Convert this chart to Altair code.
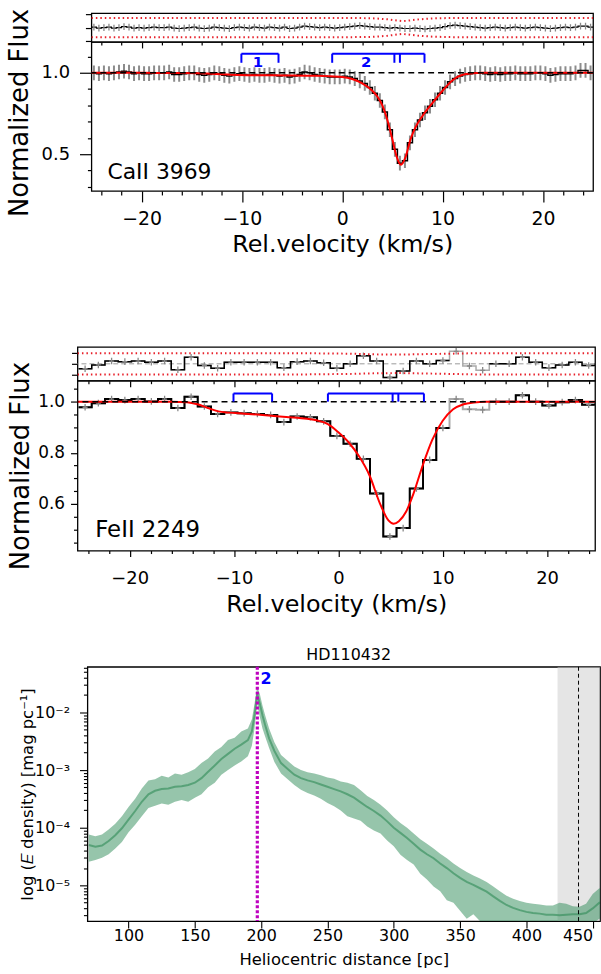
import altair as alt
import pandas as pd

FONT = "DejaVu Sans"

# ====================== CaII 3969 ======================
ca_vel = [-24.75, -24.25, -23.75, -23.25, -22.75, -22.25, -21.75, -21.25, -20.75, -20.25,
          -19.75, -19.25, -18.75, -18.25, -17.75, -17.25, -16.75, -16.25, -15.75, -15.25,
          -14.75, -14.25, -13.75, -13.25, -12.75, -12.25, -11.75, -11.25, -10.75, -10.25,
          -9.75, -9.25, -8.75, -8.25, -7.75, -7.25, -6.75, -6.25, -5.75, -5.25,
          -4.75, -4.25, -3.75, -3.25, -2.75, -2.25, -1.75, -1.25, -0.75, -0.25,
          0.25, 0.75, 1.25, 1.75, 2.25, 2.75, 3.25, 3.75, 4.25, 4.75,
          5.25, 5.75, 6.25, 6.75, 7.25, 7.75, 8.25, 8.75, 9.25, 9.75,
          10.25, 10.75, 11.25, 11.75, 12.25, 12.75, 13.25, 13.75, 14.25, 14.75,
          15.25, 15.75, 16.25, 16.75, 17.25, 17.75, 18.25, 18.75, 19.25, 19.75,
          20.25, 20.75, 21.25, 21.75, 22.25, 22.75, 23.25, 23.75, 24.25, 24.75]
ca_flux = [1.000, 0.995, 1.000, 0.995, 1.000, 1.005, 1.010, 1.005, 0.995, 1.000,
           0.995, 0.995, 1.000, 1.000, 1.000, 1.005, 0.990, 0.990, 0.995, 1.000,
           1.000, 0.990, 0.985, 0.990, 1.000, 0.995, 0.985, 0.980, 0.990, 0.995,
           0.990, 0.985, 0.990, 0.985, 0.985, 0.990, 0.985, 0.980, 0.985, 0.975,
           0.980, 0.990, 1.005, 1.000, 0.990, 0.985, 0.980, 0.975, 0.975, 0.975,
           0.980, 0.975, 0.965, 0.950, 0.935, 0.910, 0.875, 0.830, 0.760, 0.650,
           0.530, 0.445, 0.460, 0.570, 0.650, 0.710, 0.755, 0.795, 0.835, 0.875,
           0.910, 0.945, 0.965, 0.980, 0.990, 0.995, 1.000, 1.000, 0.995, 0.990,
           0.995, 0.990, 0.995, 0.995, 1.000, 0.995, 0.995, 0.995, 1.000, 1.000,
           0.995, 0.985, 0.990, 0.995, 0.995, 0.995, 1.000, 1.015, 1.015, 1.000]
ca_flux_err = 0.045
ca_resid = [0.05, -0.05, 0.0, 0.05, -0.05, 0.0, 0.1, 0.05, -0.05, 0.0,
            -0.05, 0.0, 0.05, 0.0, 0.0, 0.05, -0.05, -0.1, -0.05, 0.0,
            0.05, -0.05, -0.1, -0.05, 0.05, 0.0, -0.05, -0.1, 0.0, 0.05,
            0.0, -0.05, 0.05, 0.0, -0.05, 0.05, 0.0, -0.05, 0.05, -0.1,
            -0.05, 0.05, 0.15, 0.1, 0.05, 0.0, 0.05, 0.0, -0.05, 0.0,
            0.05, 0.1, 0.15, 0.2, 0.15, 0.1, 0.05, 0.05, 0.0, -0.05,
            0.0, -0.05, -0.1, -0.1, -0.05, -0.1, -0.15, -0.1, -0.05, 0.0,
            0.1, 0.2, 0.25, 0.2, 0.15, 0.1, 0.05, 0.0, -0.05, 0.0,
            0.05, 0.0, -0.05, 0.0, 0.05, 0.0, -0.05, 0.0, 0.05, 0.0,
            -0.05, -0.1, -0.05, 0.0, 0.05, 0.0, 0.05, 0.15, 0.15, 0.05]
ca_resid_err = 0.35
ca_bin_half = 0.25
ca_model_vel = [-25, -20, -16, -13, -11, -9, -7, -5, -3, -1.5,
                0, 1, 2, 3, 3.5, 4, 4.5, 5, 5.4, 5.85,
                6.3, 6.8, 7.3, 8, 9, 10, 11, 12, 13, 14, 25]
ca_model = [1.0, 1.0, 0.999, 0.995, 0.988, 0.985, 0.985, 0.984, 0.982, 0.98,
            0.975, 0.962, 0.935, 0.89, 0.855, 0.8, 0.71, 0.59, 0.49, 0.435,
            0.48, 0.59, 0.665, 0.735, 0.815, 0.89, 0.955, 0.988, 0.997, 1.0, 1.0]
ca_lim_vel = [-25, 1, 3, 4.5, 5.5, 6, 6.5, 7.5, 9, 11, 25]
ca_lim_hi = [1.0, 1.0, 0.97, 0.86, 0.72, 0.67, 0.71, 0.84, 0.95, 1.0, 1.0]
ca_lim_lo = [-1.0, -1.0, -0.97, -0.86, -0.72, -0.67, -0.71, -0.84, -0.95, -1.0, -1.0]

# ====================== FeII 2249 ======================
fe_vel = [-24.27, -23.00, -21.73, -20.46, -19.19, -17.92, -16.65, -15.38, -14.11, -12.84,
          -11.57, -10.30, -9.03, -7.76, -6.49, -5.22, -3.95, -2.68, -1.41, -0.14,
          1.13, 2.40, 3.67, 4.94, 6.21, 7.48, 8.75, 10.02, 11.29, 12.56,
          13.83, 15.10, 16.37, 17.64, 18.91, 20.18, 21.45, 22.72, 23.99, 25.26]
fe_flux = [0.978, 0.994, 1.010, 1.006, 1.010, 1.001, 1.010, 0.975, 1.019, 0.981,
           0.952, 0.958, 0.955, 0.952, 0.948, 0.920, 0.942, 0.939, 0.923, 0.866,
           0.835, 0.776, 0.640, 0.472, 0.505, 0.660, 0.772, 0.897, 1.010, 0.970,
           0.968, 1.000, 1.000, 1.025, 1.000, 0.985, 0.998, 1.006, 0.988, 0.990]
fe_resid = [-0.45, -0.1, 0.25, 0.2, 0.25, 0.15, 0.25, -0.55, 0.6, -0.15,
            -0.4, 0.15, 0.15, 0.15, 0.15, -0.35, 0.2, 0.25, 0.1, -0.4,
            0.0, 0.75, 0.25, -1.25, -0.65, 0.25, 0.0, 0.3, 1.15, -0.2,
            -0.6, 0.0, 0.0, 0.6, 0.15, -0.35, -0.1, 0.15, -0.15, 0.0]
fe_masked_vel = [11.29, 12.56, 13.83]
fe_bin_half = 0.635
fe_flux_err = 0.013
fe_resid_err = 0.3
fe_model_vel = [-25, -16, -14.5, -13.5, -12.5, -11.5, -10.5, -9, -7, -5,
                -3, -2, -1, 0, 1, 2, 3, 4, 4.8, 5.3,
                5.8, 6.5, 7.2, 8, 9, 10, 11, 12, 13, 14, 15, 25]
fe_model = [1.0, 1.0, 0.998, 0.99, 0.975, 0.962, 0.957, 0.953, 0.947, 0.94,
            0.933, 0.926, 0.912, 0.88, 0.84, 0.785, 0.71, 0.6, 0.535, 0.522,
            0.532, 0.57, 0.64, 0.74, 0.85, 0.925, 0.97, 0.99, 0.997, 1.0, 1.0, 1.0]
fe_lim_vel = [-25, -3, 1, 4, 6, 9, 13, 25]
fe_lim_hi = [0.97, 0.97, 0.93, 0.86, 0.85, 0.9, 0.97, 0.97]
fe_lim_lo = [-0.97, -0.97, -0.93, -0.86, -0.85, -0.9, -0.97, -0.97]

# component markers (shared by both line panels)
comp_bars = [[-10.05, -6.35], [-1.0, 8.2]]
comp_ticks = [-10.05, -6.35, -1.0, 5.2, 5.75, 8.2]
comp_names = ["1", "2"]
comp_name_vel = [-8.4, 2.4]
continuum = 1.0

# ====================== extinction density ======================
dist = [70, 75, 80, 85, 90, 95, 100, 105, 110, 115, 120, 125, 130, 135, 140, 145, 150, 155,
        160, 165, 170, 175, 180, 185, 190, 193, 195, 197, 199, 201, 203, 206, 210, 215, 220,
        225, 230, 235, 240, 245, 250, 255, 260, 265, 270, 275, 280, 285, 290, 295, 300, 305,
        310, 315, 320, 325, 330, 335, 340, 345, 350, 355, 360, 365, 370, 375, 380, 385, 390,
        395, 400, 405, 410, 415, 420, 425, 430, 435, 440, 445, 450, 455, 460]
log_med = [-4.30, -4.33, -4.31, -4.23, -4.13, -4.01, -3.86, -3.71, -3.55, -3.42, -3.36, -3.33,
           -3.32, -3.29, -3.28, -3.26, -3.22, -3.14, -3.03, -2.92, -2.81, -2.72, -2.63, -2.56,
           -2.48, -2.33, -2.05, -1.68, -1.85, -2.05, -2.22, -2.45, -2.67, -2.88, -2.98, -3.08,
           -3.14, -3.18, -3.21, -3.25, -3.29, -3.33, -3.37, -3.42, -3.48, -3.56, -3.64, -3.71,
           -3.79, -3.89, -4.00, -4.09, -4.18, -4.28, -4.38, -4.46, -4.53, -4.62, -4.70, -4.79,
           -4.87, -4.94, -4.99, -5.05, -5.11, -5.19, -5.27, -5.34, -5.39, -5.43, -5.46, -5.48,
           -5.49, -5.51, -5.51, -5.52, -5.51, -5.50, -5.50, -5.48, -5.40, -5.30, -5.35]
log_hi = [-4.12, -4.15, -4.12, -4.03, -3.93, -3.80, -3.64, -3.50, -3.32, -3.18, -3.16, -3.10,
          -3.13, -3.06, -3.08, -3.04, -2.98, -2.88, -2.80, -2.68, -2.60, -2.48, -2.44, -2.33,
          -2.28, -2.12, -1.85, -1.55, -1.68, -1.88, -2.05, -2.28, -2.52, -2.74, -2.84, -2.94,
          -3.00, -3.04, -3.06, -3.09, -3.13, -3.15, -3.20, -3.22, -3.26, -3.35, -3.45, -3.52,
          -3.60, -3.70, -3.82, -3.92, -4.00, -4.10, -4.20, -4.28, -4.36, -4.45, -4.53, -4.62,
          -4.70, -4.77, -4.83, -4.88, -4.94, -5.02, -5.10, -5.18, -5.23, -5.27, -5.30, -5.32,
          -5.33, -5.35, -5.35, -5.30, -5.32, -5.36, -5.37, -5.32, -5.15, -5.05, -5.10]
log_lo = [-4.59, -4.56, -4.52, -4.46, -4.36, -4.25, -4.08, -3.95, -3.80, -3.66, -3.62, -3.58,
          -3.60, -3.55, -3.52, -3.55, -3.48, -3.42, -3.30, -3.22, -3.08, -3.00, -2.92, -2.85,
          -2.76, -2.58, -2.28, -1.85, -2.08, -2.28, -2.42, -2.62, -2.86, -3.06, -3.16, -3.26,
          -3.34, -3.40, -3.44, -3.50, -3.57, -3.63, -3.70, -3.80, -3.84, -3.88, -3.98, -4.05,
          -4.10, -4.22, -4.32, -4.47, -4.56, -4.64, -4.80, -4.90, -5.02, -5.10, -5.26, -5.30,
          -5.44, -5.58, -5.50, -5.62, -5.70, -5.75, -5.80, -5.85, -5.90, -5.90, -5.90, -5.90,
          -5.90, -5.85, -5.82, -5.80, -5.80, -5.75, -5.72, -5.70, -5.66, -5.58, -5.60]
cloud_dist = [197.1]
cloud_name = ["2"]
cloud_label_dist = [199.5]
cloud_label_log = [-1.43]
star_dist = [439.3]
star_band = [423.5, 470.0]

# ---------------------------------------------------------------
VEL_TICKS = [-24, -22, -20, -18, -16, -14, -12, -10, -8, -6, -4, -2, 0,
             2, 4, 6, 8, 10, 12, 14, 16, 18, 20, 22, 24]
TOP_Y_TICKS = [0.3, 0.4, 0.5, 0.6, 0.7, 0.8, 0.9, 1.0, 1.1]
MID_Y_TICKS = [0.45, 0.5, 0.55, 0.6, 0.65, 0.7, 0.75, 0.8, 0.85, 0.9, 0.95, 1.0, 1.05]
DIST_TICKS = [100, 150, 200, 250, 300, 350, 400, 450]
LOG_DECADES = [float(f"1e{e}") for e in (-2, -3, -4, -5)]
LOG_TICKS = [float(f"{m}e{e}") for e in (-6, -5, -4, -3, -2) for m in range(1, 10)]
LOG_TICKS = [v for v in LOG_TICKS if 2.4e-6 <= v <= 0.0617]


def cond_size(test, big, small):
    return {"condition": {"test": test, "value": big}, "value": small}


def steps(centers, values, half, keep=None):
    rows, seg, prev = [], 0, True
    for i, (c, v) in enumerate(zip(centers, values)):
        k = True if keep is None else keep[i]
        if not k:
            if prev:
                seg += 1
            prev = False
            continue
        prev = True
        rows.append(dict(x=c - half, y=v, o=2 * i, seg=seg))
        rows.append(dict(x=c + half, y=v, o=2 * i + 1, seg=seg))
    return pd.DataFrame(rows)


def spacer(w, h):
    return alt.Chart(pd.DataFrame({"s": [0]})).mark_point(opacity=0).properties(
        width=w, height=h, view=alt.ViewBackground(stroke="transparent"))


def line_panels(vel, flux, ferr, resid, rerr, half, model_vel, model, lim_vel, lim_hi, lim_lo,
                xdom, width, res_h, main_h, ydom, res_dom, yticks, ymajor_test, res_ticks,
                name, name_pos, keep, res_center, main_fs, style):
    XS = alt.Scale(domain=xdom, nice=False, zero=False)
    YS = alt.Scale(domain=ydom, nice=False, zero=False)
    RS = alt.Scale(domain=res_dom, nice=False, zero=False)

    xax = alt.Axis(values=VEL_TICKS, labelExpr="datum.value % 10 === 0 ? datum.label : ''",
                   tickSize=cond_size("datum.value % 10 === 0", style["xmaj"], style["xmin"]),
                   labelPadding=style["xlp"], labelFontSize=style["xlfs"],
                   title="Rel.velocity (km/s)", titleFontSize=24, titleFontWeight="normal",
                   titlePadding=style["xtp"], domain=False, grid=False, tickWidth=1.2)
    yax = alt.Axis(values=yticks, format=".1f",
                   labelExpr="(" + ymajor_test + ") ? datum.label : ''",
                   tickSize=cond_size(ymajor_test, style["ymaj"], 4),
                   labelPadding=style["ylp"], labelFontSize=style["ylfs"],
                   title="Normalized Flux", titleFontSize=26, titleFontWeight="normal",
                   titleX=style["tx"], titleBaseline="middle", domain=False, grid=False,
                   tickWidth=1.2, **({"titleY": style["ty"]} if style.get("ty") is not None else {}))
    rxax = alt.Axis(values=VEL_TICKS, labels=False, title=None, domain=False, grid=False,
                    tickSize=cond_size("datum.value % 10 === 0", 6, 3), tickWidth=1.2)
    ryax = alt.Axis(values=res_ticks, labels=False, title=None, domain=False, grid=False,
                    tickSize=6, tickWidth=1.2)

    err_df = pd.DataFrame({"x": vel, "y": [f - ferr for f in flux], "y2": [f + ferr for f in flux]})
    harm_df = pd.DataFrame({"x": [v - 0.24 for v in vel], "x2": [v + 0.24 for v in vel], "y": flux})
    rerr_df = pd.DataFrame({"x": vel, "y": [r - rerr for r in resid], "y2": [r + rerr for r in resid]})
    rharm_df = pd.DataFrame({"x": [v - 0.24 for v in vel], "x2": [v + 0.24 for v in vel], "y": resid})
    model_df = pd.DataFrame({"x": model_vel, "y": model})
    lim_df = pd.concat([pd.DataFrame({"x": lim_vel, "y": lim_hi, "k": "hi"}),
                        pd.DataFrame({"x": lim_vel, "y": lim_lo, "k": "lo"})])
    cont_df = pd.DataFrame({"y": [continuum]})

    def X(f="x"):
        return alt.X(f + ":Q", scale=XS, axis=xax)

    def Y(f="y"):
        return alt.Y(f + ":Q", scale=YS, axis=yax)

    def RX(f="x"):
        return alt.X(f + ":Q", scale=XS, axis=rxax)

    def RY(f="y"):
        return alt.Y(f + ":Q", scale=RS, axis=ryax)

    # ---------- residual panel ----------
    rlayers = []
    if keep is not None:
        rlayers.append(alt.Chart(steps(vel, resid, half)).mark_line(
            color="#aaaaaa", strokeWidth=1.5, clip=True).encode(
            x=RX(), y=RY(), order=alt.Order("o:Q")))
    if res_center:
        rlayers.append(alt.Chart(pd.DataFrame({"y": [0.0]})).mark_rule(
            color="#999999", strokeDash=[5, 3], strokeWidth=1).encode(y=RY()))
    rlayers.append(alt.Chart(steps(vel, resid, half, keep)).mark_line(
        color="black", strokeWidth=1.5 if keep is not None else 1.2, clip=True).encode(
        x=RX(), y=RY(), detail="seg:N", order=alt.Order("o:Q")))
    rlayers.append(alt.Chart(rerr_df).mark_rule(color="#888888", strokeWidth=1.3, clip=True).encode(
        x=RX(), y=RY(), y2="y2:Q"))
    if keep is not None:
        rlayers.append(alt.Chart(rharm_df).mark_rule(color="#888888", strokeWidth=1.3, clip=True).encode(
            x=RX(), x2="x2:Q", y=RY()))
    rlayers.append(alt.Chart(lim_df).mark_line(color="#e8202a", strokeWidth=2, strokeDash=[1.5, 3],
                                               clip=True).encode(x=RX(), y=RY(), detail="k:N"))
    res = alt.layer(*rlayers).properties(width=width, height=res_h)

    # ---------- main panel ----------
    layers = []
    if keep is not None:
        layers.append(alt.Chart(steps(vel, flux, half)).mark_line(
            color="#aaaaaa", strokeWidth=2, clip=True).encode(x=X(), y=Y(), order=alt.Order("o:Q")))
        layers.append(alt.Chart(steps(vel, flux, half, keep)).mark_line(
            color="black", strokeWidth=2, clip=True).encode(
            x=X(), y=Y(), detail="seg:N", order=alt.Order("o:Q")))
        layers.append(alt.Chart(err_df).mark_rule(color="#888888", strokeWidth=1.3, clip=True).encode(
            x=X(), y=Y(), y2="y2:Q"))
        layers.append(alt.Chart(harm_df).mark_rule(color="#888888", strokeWidth=1.3, clip=True).encode(
            x=X(), x2="x2:Q", y=Y()))
    else:
        layers.append(alt.Chart(err_df).mark_rule(color="#8c8c8c", strokeWidth=2, clip=True).encode(
            x=X(), y=Y(), y2="y2:Q"))
        layers.append(alt.Chart(steps(vel, flux, half)).mark_line(
            color="black", strokeWidth=1.5, clip=True).encode(x=X(), y=Y(), order=alt.Order("o:Q")))
    layers.append(alt.Chart(model_df).mark_line(color="#ff0000", strokeWidth=2, interpolate="monotone",
                                                clip=True).encode(x=X(), y=Y()))
    layers.append(alt.Chart(cont_df).mark_rule(color="black", strokeWidth=1.5, strokeDash=[6, 4]).encode(
        y=Y()))
    top_y, bot_y = style["bar_y"]
    bars_df = pd.DataFrame({"x": [b[0] for b in comp_bars], "x2": [b[1] for b in comp_bars],
                            "y": [top_y] * len(comp_bars)})
    ticks_df = pd.DataFrame({"x": comp_ticks, "y": [bot_y] * len(comp_ticks),
                             "y2": [top_y] * len(comp_ticks)})
    layers.append(alt.Chart(bars_df).mark_rule(color="#0000ff", strokeWidth=2).encode(
        x=X(), x2="x2:Q", y=Y()))
    layers.append(alt.Chart(ticks_df).mark_rule(color="#0000ff", strokeWidth=2).encode(
        x=X(), y=Y(), y2="y2:Q"))
    if style.get("comp_label_y") is not None:
        cl_df = pd.DataFrame({"x": comp_name_vel, "y": [style["comp_label_y"]] * 2, "t": comp_names})
        layers.append(alt.Chart(cl_df).mark_text(color="#0000ff", fontSize=15, fontWeight="bold",
                                                 font=FONT, baseline="alphabetic").encode(
            x=X(), y=Y(), text="t:N"))
    nm_df = pd.DataFrame({"x": [name_pos[0]], "y": [name_pos[1]], "t": [name]})
    layers.append(alt.Chart(nm_df).mark_text(align="left", baseline="alphabetic", fontSize=main_fs,
                                             font=FONT, color="black").encode(
        x=X(), y=Y(), text="t:N"))
    main = alt.layer(*layers).properties(width=width, height=main_h)
    return alt.vconcat(res, main, spacing=0, bounds="flush")


top_block = line_panels(
    ca_vel, ca_flux, ca_flux_err, ca_resid, ca_resid_err, ca_bin_half,
    ca_model_vel, ca_model, ca_lim_vel, ca_lim_hi, ca_lim_lo,
    xdom=[-25, 25], width=505, res_h=29, main_h=150, ydom=[0.274, 1.19], res_dom=[-1.5, 1.5],
    yticks=TOP_Y_TICKS, ymajor_test="datum.value === 0.5 || datum.value === 1",
    res_ticks=[-1.4, 0, 1.4], name="CaII 3969", name_pos=(-23.4, 0.348), keep=None,
    res_center=False, main_fs=22,
    style=dict(xmaj=11, xmin=4, xlp=8, xlfs=19, xtp=4, ymaj=12, ylp=10, ylfs=18, tx=-72, ty=71,
               bar_y=(1.118, 1.062), comp_label_y=1.037))

fe_keep = [v not in fe_masked_vel for v in fe_vel]
mid_block = line_panels(
    fe_vel, fe_flux, fe_flux_err, fe_resid, fe_resid_err, fe_bin_half,
    fe_model_vel, fe_model, fe_lim_vel, fe_lim_hi, fe_lim_lo,
    xdom=[-25, 24.6], width=521, res_h=34, main_h=171, ydom=[0.417, 1.082], res_dom=[-1.55, 1.55],
    yticks=MID_Y_TICKS, ymajor_test="datum.value === 0.6 || datum.value === 0.8 || datum.value === 1",
    res_ticks=[-1, 0, 1], name="FeII 2249", name_pos=(-23.3, 0.471), keep=fe_keep,
    res_center=True, main_fs=23,
    style=dict(xmaj=6, xmin=3, xlp=13, xlfs=18, xtp=5, ymaj=7, ylp=6, ylfs=17, tx=-57.5, ty=None,
               bar_y=(1.032, 1.0), comp_label_y=None))

# ---------------- bottom panel ----------------
XB = alt.Scale(domain=[69, 455.5], nice=False, zero=False)
YB = alt.Scale(type="log", domain=[2.4e-6, 0.0617], nice=False)
bxax = alt.Axis(values=DIST_TICKS, tickSize=7, labelPadding=0, labelFontSize=16, labelFlush=10,
                title="Heliocentric distance [pc]", titleFontSize=16.5, titleFontWeight="normal",
                titlePadding=8, domain=False, grid=False, tickWidth=1.1)
dec_test = " || ".join(f"datum.value === {d!r}" for d in LOG_DECADES)
byax = alt.Axis(values=LOG_TICKS, tickSize=cond_size(dec_test, 8, 4), labelPadding=10,
                labelFontSize=16,
                labelExpr=("datum.value === 0.01 ? '10⁻²' : datum.value === 0.001 ? '10⁻³' : "
                           "datum.value === 0.0001 ? '10⁻⁴' : datum.value === 0.00001 ? '10⁻⁵' : ''"),
                title="log (𝐸 density) [mag pc⁻¹]", titleFontSize=16.5, titleFontWeight="normal",
                titleX=-60, titleBaseline="middle", domain=False, grid=False, tickWidth=1.1)

ext_df = pd.DataFrame({"d": dist, "m": [10 ** v for v in log_med], "h": [10 ** v for v in log_hi],
                       "l": [10 ** v for v in log_lo]})
BX = lambda f: alt.X(f + ":Q", scale=XB, axis=bxax)
BY = lambda f: alt.Y(f + ":Q", scale=YB, axis=byax)

b_layers = [
    alt.Chart(pd.DataFrame({"x": [star_band[0]], "x2": [star_band[1]]})).mark_rect(
        color="#cccccc", opacity=0.5, clip=True).encode(x=BX("x"), x2="x2:Q"),
    alt.Chart(ext_df).mark_area(color="#2e8b57", opacity=0.5, clip=True).encode(
        x=BX("d"), y=BY("h"), y2="l:Q"),
    alt.Chart(ext_df).mark_line(color="#2e8b57", opacity=0.6, strokeWidth=2, clip=True).encode(
        x=BX("d"), y=BY("m")),
    alt.Chart(pd.DataFrame({"x": star_dist})).mark_rule(color="black", strokeWidth=1,
                                                       strokeDash=[4, 3]).encode(x=BX("x")),
    alt.Chart(pd.DataFrame({"x": cloud_dist})).mark_rule(color="#bf00bf", strokeWidth=3.2,
                                                        strokeDash=[3, 2]).encode(x=BX("x")),
    alt.Chart(pd.DataFrame({"x": cloud_label_dist, "y": [10 ** v for v in cloud_label_log],
                            "t": cloud_name})).mark_text(
        color="#0000ff", fontSize=16, fontWeight="bold", font=FONT, align="left",
        baseline="middle").encode(x=BX("x"), y=BY("y"), text="t:N"),
]
bottom = alt.layer(*b_layers).properties(
    width=516, height=256,
    title=alt.Title("HD110432", fontSize=16, fontWeight="normal", font=FONT, offset=2, dx=5,
                    color="black"))

row1 = alt.hconcat(spacer(1, 1), top_block, spacing=0)
row2 = alt.hconcat(spacer(1, 1), mid_block, spacing=0)
row3 = alt.hconcat(spacer(16, 1), bottom, spacing=0)

chart = alt.vconcat(row1, spacer(1, 85), row2, spacer(1, 27), row3, spacing=0).properties(
    padding={"left": -1, "top": 4, "right": 0, "bottom": 0}
).configure_view(stroke="black", strokeWidth=1.3).configure_axis(
    labelFont=FONT, titleFont=FONT, labelColor="black", titleColor="black", tickColor="black"
).configure_title(font=FONT)

chart.save("out.html", embed_options={"renderer": "svg", "actions": False})
